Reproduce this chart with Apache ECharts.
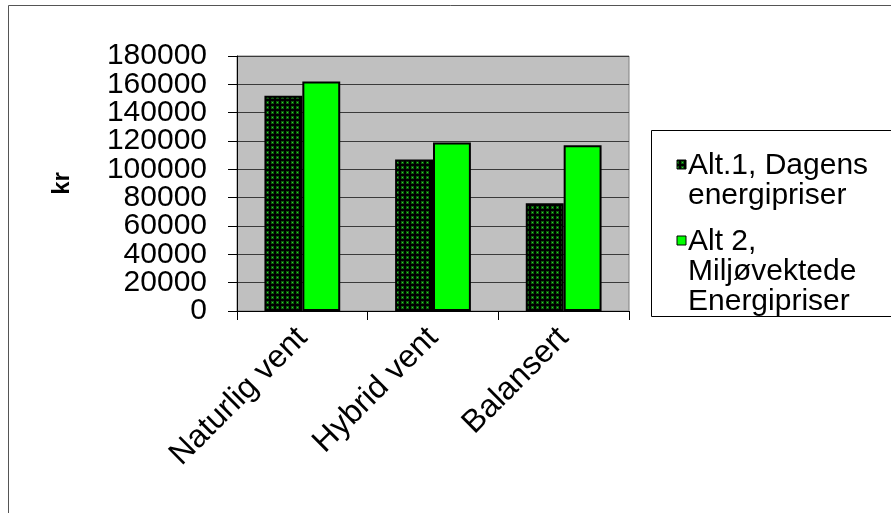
<!DOCTYPE html>
<html>
<head>
<meta charset="utf-8">
<script src="https://cdn.jsdelivr.net/npm/echarts@6/dist/echarts.min.js"></script>
<style>
  html, body { margin: 0; padding: 0; background: #ffffff; }
  #chart { width: 891px; height: 513px; }
</style>
</head>
<body>
<div id="chart"></div>
<script>
// Annual cost per ventilation concept, two energy price scenarios (kr)
const categories = ['Naturlig vent', 'Hybrid vent', 'Balansert'];
const alt1Values = [152000, 107000, 76000];
const alt2Values = [162000, 119000, 117000];
const alt1Name = 'Alt.1, Dagens energipriser';
const alt2Name = 'Alt 2, Miljøvektede Energipriser';
const alt1LegendLines = ['Alt.1, Dagens', 'energipriser'];
const alt2LegendLines = ['Alt 2,', 'Miljøvektede', 'Energipriser'];
const yTicks = [0, 20000, 40000, 60000, 80000, 100000, 120000, 140000, 160000, 180000];
const yAxisTitle = 'kr';

const FONT = '"Liberation Sans", Arial, sans-serif';
const gridBox = { left: 237, right: 262, top: 56, bottom: 202 };

// Dotted dark-green fill tile for the first series
function makeDotTile() {
  const c = document.createElement('canvas');
  c.width = 5; c.height = 5;
  const g = c.getContext('2d');
  g.fillStyle = '#000000';
  g.fillRect(0, 0, 5, 5);
  g.fillStyle = '#0b5a0b';
  g.fillRect(1, 1, 3, 3);
  g.fillStyle = '#2fd02f';
  g.fillRect(2, 2, 1, 1);
  return c;
}
const dotPattern = { image: makeDotTile(), repeat: 'repeat' };

const chart = echarts.init(document.getElementById('chart'), null, { renderer: 'canvas' });

const legendX = 677;
const legendTextX = 688;

function legendText(lines, y) {
  return {
    type: 'text',
    left: legendTextX,
    top: y,
    style: {
      text: lines.join('\n'),
      font: '30px ' + FONT,
      lineHeight: 30,
      fill: '#000000'
    }
  };
}

const option = {
  backgroundColor: '#ffffff',
  animation: false,
  grid: {
    left: gridBox.left,
    right: gridBox.right,
    top: gridBox.top,
    bottom: gridBox.bottom,
    show: true,
    backgroundColor: '#c0c0c0',
    borderColor: '#808080',
    borderWidth: 1
  },
  xAxis: {
    type: 'category',
    data: categories,
    axisLine: { lineStyle: { color: '#000000', width: 1 } },
    axisTick: { show: true, length: 9, lineStyle: { color: '#000000' } },
    axisLabel: {
      rotate: 45,
      margin: 22,
      fontFamily: FONT,
      fontSize: 32,
      color: '#000000',
      interval: 0
    }
  },
  yAxis: {
    type: 'value',
    min: yTicks[0],
    max: yTicks[yTicks.length - 1],
    interval: yTicks[1] - yTicks[0],
    axisLine: { show: true, lineStyle: { color: '#000000', width: 1 } },
    axisTick: { show: true, length: 9, lineStyle: { color: '#000000' } },
    axisLabel: { show: false },
    splitLine: { show: true, lineStyle: { color: '#3a3a3a', width: 1 } }
  },
  series: [
    {
      name: alt1Name,
      type: 'bar',
      data: alt1Values,
      barGap: '0%',
      barCategoryGap: '42%',
      itemStyle: { color: dotPattern, borderColor: '#000000', borderWidth: 2 }
    },
    {
      name: alt2Name,
      type: 'bar',
      data: alt2Values,
      barGap: '0%',
      barCategoryGap: '42%',
      itemStyle: { color: '#00ff00', borderColor: '#000000', borderWidth: 2 }
    }
  ]
};

chart.setOption(option);

// Value-axis tick labels, placed through the axis scale
const tickLabels = yTicks.map(function (v) {
  const y = chart.convertToPixel({ yAxisIndex: 0 }, v);
  return {
    type: 'text',
    x: gridBox.left - 30,
    y: y,
    style: {
      text: String(v),
      font: '30px ' + FONT,
      fill: '#000000',
      align: 'right',
      verticalAlign: 'middle'
    },
    silent: true
  };
});

const plotMidY = (chart.convertToPixel({ yAxisIndex: 0 }, yTicks[0]) +
                  chart.convertToPixel({ yAxisIndex: 0 }, yTicks[yTicks.length - 1])) / 2;

chart.setOption({
  graphic: [
    // outer chart frame
    {
      type: 'rect',
      shape: { x: 8.5, y: 5.5, width: 900, height: 520 },
      style: { fill: null, stroke: '#555555', lineWidth: 1 },
      silent: true,
      z: -1
    },
    // value axis title
    {
      type: 'text',
      x: 62,
      y: plotMidY,
      rotation: Math.PI / 2,
      style: {
        text: yAxisTitle,
        font: 'bold 24px ' + FONT,
        fill: '#000000',
        align: 'center',
        verticalAlign: 'middle'
      },
      silent: true
    },
    // legend box
    {
      type: 'rect',
      shape: { x: 651.5, y: 130.5, width: 300, height: 186 },
      style: { fill: '#ffffff', stroke: '#000000', lineWidth: 1 },
      silent: true
    },
    {
      type: 'rect',
      shape: { x: legendX, y: 160, width: 9, height: 9 },
      style: { fill: dotPattern, stroke: '#000000', lineWidth: 1 }
    },
    legendText(alt1LegendLines, 151),
    {
      type: 'rect',
      shape: { x: legendX, y: 236, width: 9, height: 9 },
      style: { fill: '#00ff00', stroke: '#000000', lineWidth: 1 }
    },
    legendText(alt2LegendLines, 227)
  ].concat(tickLabels)
});
</script>
</body>
</html>
